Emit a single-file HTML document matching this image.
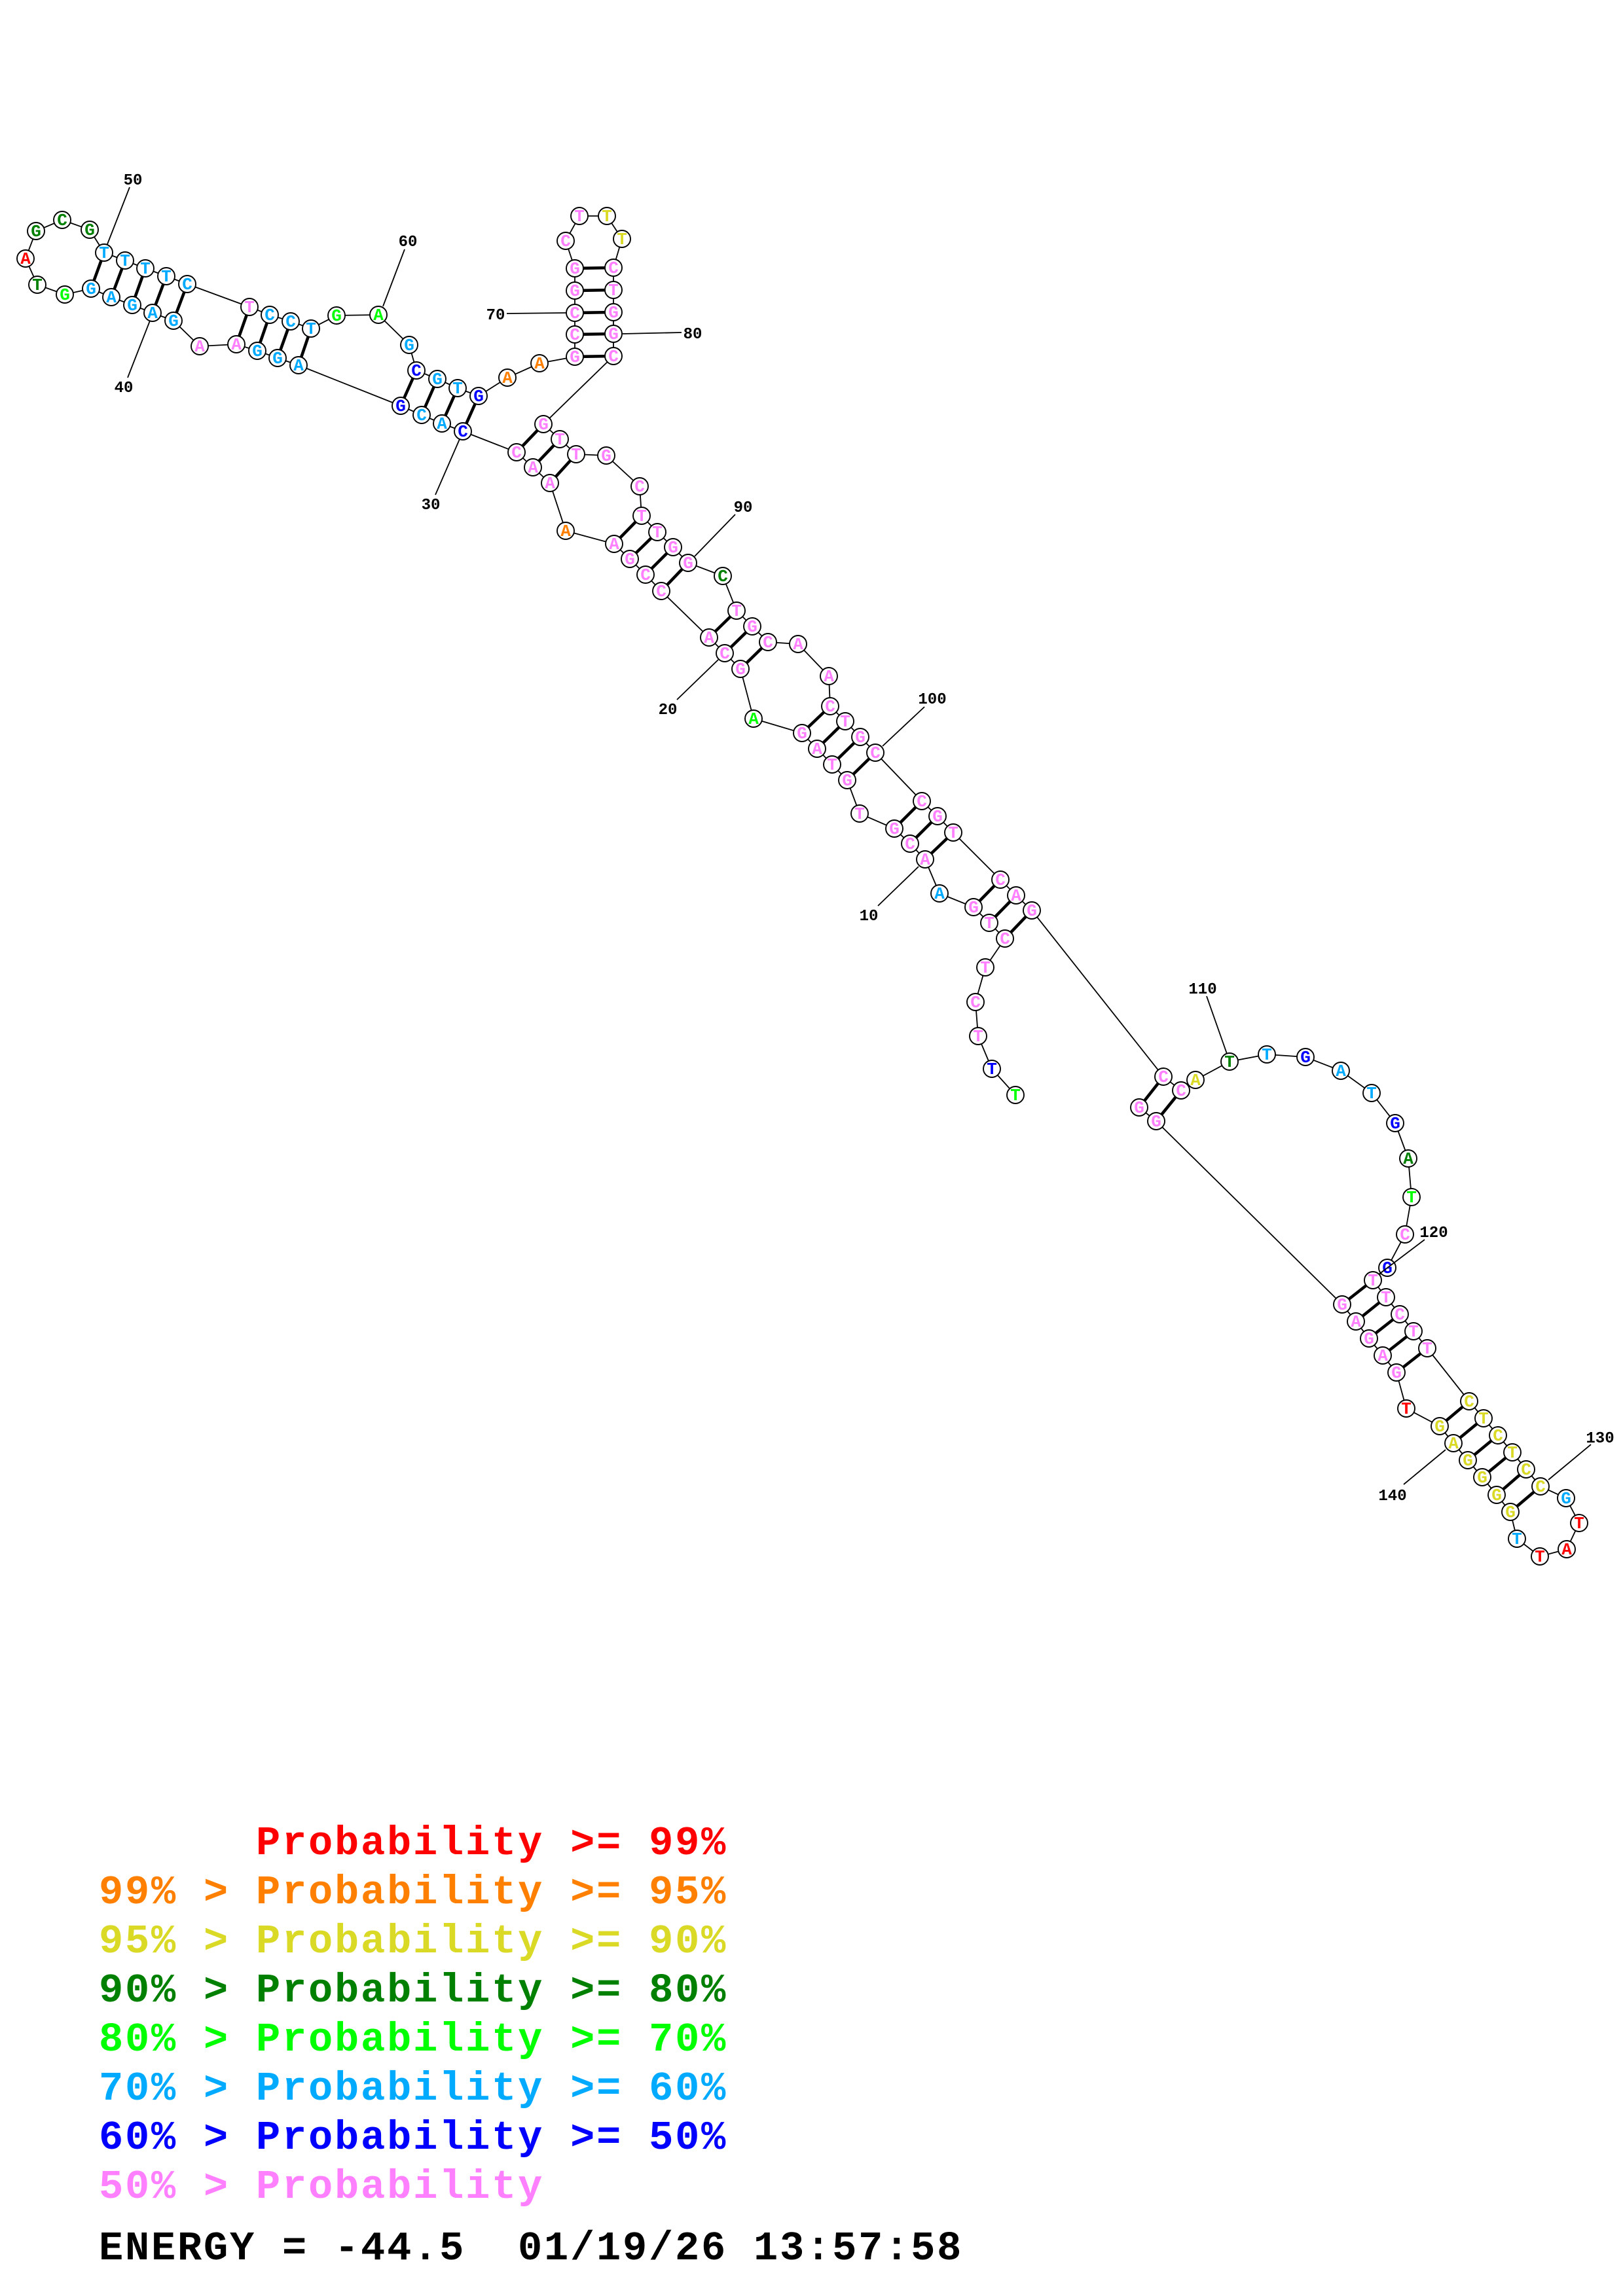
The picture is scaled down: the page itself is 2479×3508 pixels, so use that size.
<!DOCTYPE html>
<html><head><meta charset="utf-8"><title>RNA secondary structure</title>
<style>
html,body{margin:0;padding:0;background:#fff}
svg{display:block}
.th{fill:none;stroke:#000;stroke-width:1.8}
.pr{fill:none;stroke:#000;stroke-width:4.6}
.nd circle{fill:#fff;stroke:#000;stroke-width:1.9}
.nd text{font:bold 26px "Liberation Mono",monospace;text-anchor:middle;fill:#ff80ff}
.nd .r{fill:#f00}.nd .o{fill:#ff8000}.nd .y{fill:#d9d926}.nd .d{fill:#008000}.nd .g{fill:#0f0}.nd .s{fill:#0af}.nd .b{fill:#00f}
.lb{font:bold 24px "Liberation Mono",monospace;text-anchor:middle;fill:#000}
.lg{font:bold 62px "Liberation Mono",monospace;letter-spacing:2.8px}
</style></head><body>
<svg xmlns="http://www.w3.org/2000/svg" width="2479" height="3508" viewBox="0 0 2479 3508">
<rect width="2479" height="3508" fill="#fff"/>
<path class="th" d="M1551 1673L1515 1633L1494 1583L1490 1531L1505 1478L1535 1434L1511 1410L1487 1386L1435 1365L1413 1313L1390 1289L1366 1266L1313 1243L1294 1192L1271 1168L1248 1144L1225 1120L1151 1098L1131 1022L1107 998L1083 974L1010 903L986 878L962 854L938 831L864 811L840 738L814 714L789 691L707 659L675 647L644 634L612 620L456 558L424 547L393 536L361 526L305 529L265 490L233 478L202 466L170 454L139 441L99 450L57 435L39 395L55 353L95 336L137 351L159 386L191 398L222 410L254 422L286 434L381 469L412 481L444 491L475 502L514 482L578 481L625 527L636 566L668 579L699 593L731 605L775 577L824 555L878 545L878 511L878 478L878 444L878 410L864 368L885 330L927 330L950 365L937 409L937 443L937 477L937 510L937 544L830 648L855 671L880 694L926 696L977 743L980 788L1004 813L1028 836L1051 860L1104 880L1125 933L1149 957L1173 981L1219 984L1266 1033L1268 1079L1291 1102L1314 1126L1337 1150L1408 1224L1432 1247L1456 1272L1528 1344L1552 1368L1576 1391L1777 1645L1804 1666L1826 1650L1878 1622L1935 1611L1994 1615L2048 1636L2095 1670L2131 1716L2151 1770L2156 1829L2146 1886L2119 1937L2097 1956L2117 1982L2138 2008L2159 2034L2180 2060L2244 2141L2266 2167L2288 2193L2310 2219L2331 2245L2353 2271L2392 2289L2412 2327L2393 2367L2352 2378L2317 2351L2307 2310L2286 2284L2264 2257L2242 2231L2220 2205L2199 2179L2148 2152L2133 2097L2112 2071L2091 2045L2071 2019L2050 1993L1766 1713L1740 1692"/>
<path class="pr" d="M1535 1434L1576 1391M1511 1410L1552 1368M1487 1386L1528 1344M1413 1313L1456 1272M1390 1289L1432 1247M1366 1266L1408 1224M1294 1192L1337 1150M1271 1168L1314 1126M1248 1144L1291 1102M1225 1120L1268 1079M1131 1022L1173 981M1107 998L1149 957M1083 974L1125 933M1010 903L1051 860M986 878L1028 836M962 854L1004 813M938 831L980 788M840 738L880 694M814 714L855 671M789 691L830 648M707 659L731 605M675 647L699 593M644 634L668 579M612 620L636 566M456 558L475 502M424 547L444 491M393 536L412 481M361 526L381 469M265 490L286 434M233 478L254 422M202 466L222 410M170 454L191 398M139 441L159 386M878 545L937 544M878 511L937 510M878 478L937 477M878 444L937 443M878 410L937 409M1777 1645L1740 1692M1804 1666L1766 1713M2097 1956L2050 1993M2117 1982L2071 2019M2138 2008L2091 2045M2159 2034L2112 2071M2180 2060L2133 2097M2244 2141L2199 2179M2266 2167L2220 2205M2288 2193L2242 2231M2310 2219L2264 2257M2331 2245L2286 2284M2353 2271L2307 2310"/>
<g class="nd">
<circle cx="1551" cy="1673" r="13"/><text x="1551" y="1681" class="g">T</text>
<circle cx="1515" cy="1633" r="13"/><text x="1515" y="1641" class="b">T</text>
<circle cx="1494" cy="1583" r="13"/><text x="1494" y="1591">T</text>
<circle cx="1490" cy="1531" r="13"/><text x="1490" y="1539">C</text>
<circle cx="1505" cy="1478" r="13"/><text x="1505" y="1486">T</text>
<circle cx="1535" cy="1434" r="13"/><text x="1535" y="1442">C</text>
<circle cx="1511" cy="1410" r="13"/><text x="1511" y="1418">T</text>
<circle cx="1487" cy="1386" r="13"/><text x="1487" y="1394">G</text>
<circle cx="1435" cy="1365" r="13"/><text x="1435" y="1373" class="s">A</text>
<circle cx="1413" cy="1313" r="13"/><text x="1413" y="1321">A</text>
<circle cx="1390" cy="1289" r="13"/><text x="1390" y="1297">C</text>
<circle cx="1366" cy="1266" r="13"/><text x="1366" y="1274">G</text>
<circle cx="1313" cy="1243" r="13"/><text x="1313" y="1251">T</text>
<circle cx="1294" cy="1192" r="13"/><text x="1294" y="1200">G</text>
<circle cx="1271" cy="1168" r="13"/><text x="1271" y="1176">T</text>
<circle cx="1248" cy="1144" r="13"/><text x="1248" y="1152">A</text>
<circle cx="1225" cy="1120" r="13"/><text x="1225" y="1128">G</text>
<circle cx="1151" cy="1098" r="13"/><text x="1151" y="1106" class="g">A</text>
<circle cx="1131" cy="1022" r="13"/><text x="1131" y="1030">G</text>
<circle cx="1107" cy="998" r="13"/><text x="1107" y="1006">C</text>
<circle cx="1083" cy="974" r="13"/><text x="1083" y="982">A</text>
<circle cx="1010" cy="903" r="13"/><text x="1010" y="911">C</text>
<circle cx="986" cy="878" r="13"/><text x="986" y="886">C</text>
<circle cx="962" cy="854" r="13"/><text x="962" y="862">G</text>
<circle cx="938" cy="831" r="13"/><text x="938" y="839">A</text>
<circle cx="864" cy="811" r="13"/><text x="864" y="819" class="o">A</text>
<circle cx="840" cy="738" r="13"/><text x="840" y="746">A</text>
<circle cx="814" cy="714" r="13"/><text x="814" y="722">A</text>
<circle cx="789" cy="691" r="13"/><text x="789" y="699">C</text>
<circle cx="707" cy="659" r="13"/><text x="707" y="667" class="b">C</text>
<circle cx="675" cy="647" r="13"/><text x="675" y="655" class="s">A</text>
<circle cx="644" cy="634" r="13"/><text x="644" y="642" class="s">C</text>
<circle cx="612" cy="620" r="13"/><text x="612" y="628" class="b">G</text>
<circle cx="456" cy="558" r="13"/><text x="456" y="566" class="s">A</text>
<circle cx="424" cy="547" r="13"/><text x="424" y="555" class="s">G</text>
<circle cx="393" cy="536" r="13"/><text x="393" y="544" class="s">G</text>
<circle cx="361" cy="526" r="13"/><text x="361" y="534">A</text>
<circle cx="305" cy="529" r="13"/><text x="305" y="537">A</text>
<circle cx="265" cy="490" r="13"/><text x="265" y="498" class="s">G</text>
<circle cx="233" cy="478" r="13"/><text x="233" y="486" class="s">A</text>
<circle cx="202" cy="466" r="13"/><text x="202" y="474" class="s">G</text>
<circle cx="170" cy="454" r="13"/><text x="170" y="462" class="s">A</text>
<circle cx="139" cy="441" r="13"/><text x="139" y="449" class="s">G</text>
<circle cx="99" cy="450" r="13"/><text x="99" y="458" class="g">G</text>
<circle cx="57" cy="435" r="13"/><text x="57" y="443" class="d">T</text>
<circle cx="39" cy="395" r="13"/><text x="39" y="403" class="r">A</text>
<circle cx="55" cy="353" r="13"/><text x="55" y="361" class="d">G</text>
<circle cx="95" cy="336" r="13"/><text x="95" y="344" class="d">C</text>
<circle cx="137" cy="351" r="13"/><text x="137" y="359" class="d">G</text>
<circle cx="159" cy="386" r="13"/><text x="159" y="394" class="s">T</text>
<circle cx="191" cy="398" r="13"/><text x="191" y="406" class="s">T</text>
<circle cx="222" cy="410" r="13"/><text x="222" y="418" class="s">T</text>
<circle cx="254" cy="422" r="13"/><text x="254" y="430" class="s">T</text>
<circle cx="286" cy="434" r="13"/><text x="286" y="442" class="s">C</text>
<circle cx="381" cy="469" r="13"/><text x="381" y="477">T</text>
<circle cx="412" cy="481" r="13"/><text x="412" y="489" class="s">C</text>
<circle cx="444" cy="491" r="13"/><text x="444" y="499" class="s">C</text>
<circle cx="475" cy="502" r="13"/><text x="475" y="510" class="s">T</text>
<circle cx="514" cy="482" r="13"/><text x="514" y="490" class="g">G</text>
<circle cx="578" cy="481" r="13"/><text x="578" y="489" class="g">A</text>
<circle cx="625" cy="527" r="13"/><text x="625" y="535" class="s">G</text>
<circle cx="636" cy="566" r="13"/><text x="636" y="574" class="b">C</text>
<circle cx="668" cy="579" r="13"/><text x="668" y="587" class="s">G</text>
<circle cx="699" cy="593" r="13"/><text x="699" y="601" class="s">T</text>
<circle cx="731" cy="605" r="13"/><text x="731" y="613" class="b">G</text>
<circle cx="775" cy="577" r="13"/><text x="775" y="585" class="o">A</text>
<circle cx="824" cy="555" r="13"/><text x="824" y="563" class="o">A</text>
<circle cx="878" cy="545" r="13"/><text x="878" y="553">G</text>
<circle cx="878" cy="511" r="13"/><text x="878" y="519">C</text>
<circle cx="878" cy="478" r="13"/><text x="878" y="486">C</text>
<circle cx="878" cy="444" r="13"/><text x="878" y="452">G</text>
<circle cx="878" cy="410" r="13"/><text x="878" y="418">G</text>
<circle cx="864" cy="368" r="13"/><text x="864" y="376">C</text>
<circle cx="885" cy="330" r="13"/><text x="885" y="338">T</text>
<circle cx="927" cy="330" r="13"/><text x="927" y="338" class="y">T</text>
<circle cx="950" cy="365" r="13"/><text x="950" y="373" class="y">T</text>
<circle cx="937" cy="409" r="13"/><text x="937" y="417">C</text>
<circle cx="937" cy="443" r="13"/><text x="937" y="451">T</text>
<circle cx="937" cy="477" r="13"/><text x="937" y="485">G</text>
<circle cx="937" cy="510" r="13"/><text x="937" y="518">G</text>
<circle cx="937" cy="544" r="13"/><text x="937" y="552">C</text>
<circle cx="830" cy="648" r="13"/><text x="830" y="656">G</text>
<circle cx="855" cy="671" r="13"/><text x="855" y="679">T</text>
<circle cx="880" cy="694" r="13"/><text x="880" y="702">T</text>
<circle cx="926" cy="696" r="13"/><text x="926" y="704">G</text>
<circle cx="977" cy="743" r="13"/><text x="977" y="751">C</text>
<circle cx="980" cy="788" r="13"/><text x="980" y="796">T</text>
<circle cx="1004" cy="813" r="13"/><text x="1004" y="821">T</text>
<circle cx="1028" cy="836" r="13"/><text x="1028" y="844">G</text>
<circle cx="1051" cy="860" r="13"/><text x="1051" y="868">G</text>
<circle cx="1104" cy="880" r="13"/><text x="1104" y="888" class="d">C</text>
<circle cx="1125" cy="933" r="13"/><text x="1125" y="941">T</text>
<circle cx="1149" cy="957" r="13"/><text x="1149" y="965">G</text>
<circle cx="1173" cy="981" r="13"/><text x="1173" y="989">C</text>
<circle cx="1219" cy="984" r="13"/><text x="1219" y="992">A</text>
<circle cx="1266" cy="1033" r="13"/><text x="1266" y="1041">A</text>
<circle cx="1268" cy="1079" r="13"/><text x="1268" y="1087">C</text>
<circle cx="1291" cy="1102" r="13"/><text x="1291" y="1110">T</text>
<circle cx="1314" cy="1126" r="13"/><text x="1314" y="1134">G</text>
<circle cx="1337" cy="1150" r="13"/><text x="1337" y="1158">C</text>
<circle cx="1408" cy="1224" r="13"/><text x="1408" y="1232">C</text>
<circle cx="1432" cy="1247" r="13"/><text x="1432" y="1255">G</text>
<circle cx="1456" cy="1272" r="13"/><text x="1456" y="1280">T</text>
<circle cx="1528" cy="1344" r="13"/><text x="1528" y="1352">C</text>
<circle cx="1552" cy="1368" r="13"/><text x="1552" y="1376">A</text>
<circle cx="1576" cy="1391" r="13"/><text x="1576" y="1399">G</text>
<circle cx="1777" cy="1645" r="13"/><text x="1777" y="1653">C</text>
<circle cx="1804" cy="1666" r="13"/><text x="1804" y="1674">C</text>
<circle cx="1826" cy="1650" r="13"/><text x="1826" y="1658" class="y">A</text>
<circle cx="1878" cy="1622" r="13"/><text x="1878" y="1630" class="d">T</text>
<circle cx="1935" cy="1611" r="13"/><text x="1935" y="1619" class="s">T</text>
<circle cx="1994" cy="1615" r="13"/><text x="1994" y="1623" class="b">G</text>
<circle cx="2048" cy="1636" r="13"/><text x="2048" y="1644" class="s">A</text>
<circle cx="2095" cy="1670" r="13"/><text x="2095" y="1678" class="s">T</text>
<circle cx="2131" cy="1716" r="13"/><text x="2131" y="1724" class="b">G</text>
<circle cx="2151" cy="1770" r="13"/><text x="2151" y="1778" class="d">A</text>
<circle cx="2156" cy="1829" r="13"/><text x="2156" y="1837" class="g">T</text>
<circle cx="2146" cy="1886" r="13"/><text x="2146" y="1894">C</text>
<circle cx="2119" cy="1937" r="13"/><text x="2119" y="1945" class="b">G</text>
<circle cx="2097" cy="1956" r="13"/><text x="2097" y="1964">T</text>
<circle cx="2117" cy="1982" r="13"/><text x="2117" y="1990">T</text>
<circle cx="2138" cy="2008" r="13"/><text x="2138" y="2016">C</text>
<circle cx="2159" cy="2034" r="13"/><text x="2159" y="2042">T</text>
<circle cx="2180" cy="2060" r="13"/><text x="2180" y="2068">T</text>
<circle cx="2244" cy="2141" r="13"/><text x="2244" y="2149" class="y">C</text>
<circle cx="2266" cy="2167" r="13"/><text x="2266" y="2175" class="y">T</text>
<circle cx="2288" cy="2193" r="13"/><text x="2288" y="2201" class="y">C</text>
<circle cx="2310" cy="2219" r="13"/><text x="2310" y="2227" class="y">T</text>
<circle cx="2331" cy="2245" r="13"/><text x="2331" y="2253" class="y">C</text>
<circle cx="2353" cy="2271" r="13"/><text x="2353" y="2279" class="y">C</text>
<circle cx="2392" cy="2289" r="13"/><text x="2392" y="2297" class="s">G</text>
<circle cx="2412" cy="2327" r="13"/><text x="2412" y="2335" class="r">T</text>
<circle cx="2393" cy="2367" r="13"/><text x="2393" y="2375" class="r">A</text>
<circle cx="2352" cy="2378" r="13"/><text x="2352" y="2386" class="r">T</text>
<circle cx="2317" cy="2351" r="13"/><text x="2317" y="2359" class="s">T</text>
<circle cx="2307" cy="2310" r="13"/><text x="2307" y="2318" class="y">G</text>
<circle cx="2286" cy="2284" r="13"/><text x="2286" y="2292" class="y">G</text>
<circle cx="2264" cy="2257" r="13"/><text x="2264" y="2265" class="y">G</text>
<circle cx="2242" cy="2231" r="13"/><text x="2242" y="2239" class="y">G</text>
<circle cx="2220" cy="2205" r="13"/><text x="2220" y="2213" class="y">A</text>
<circle cx="2199" cy="2179" r="13"/><text x="2199" y="2187" class="y">G</text>
<circle cx="2148" cy="2152" r="13"/><text x="2148" y="2160" class="r">T</text>
<circle cx="2133" cy="2097" r="13"/><text x="2133" y="2105">G</text>
<circle cx="2112" cy="2071" r="13"/><text x="2112" y="2079">A</text>
<circle cx="2091" cy="2045" r="13"/><text x="2091" y="2053">G</text>
<circle cx="2071" cy="2019" r="13"/><text x="2071" y="2027">A</text>
<circle cx="2050" cy="1993" r="13"/><text x="2050" y="2001">G</text>
<circle cx="1766" cy="1713" r="13"/><text x="1766" y="1721">G</text>
<circle cx="1740" cy="1692" r="13"/><text x="1740" y="1700">G</text>
</g>
<path class="th" d="M1341 1384L1403 1324M1034 1069L1097 1008M665 756L702 671M195 577L229 490M198 286L164 373M618 381L585 468M774 479L865 478M951 510L1041 508M1123 786L1061 850M1412 1080L1348 1140M1843 1522L1874 1610M2176 1894L2106 1947M2430 2207L2365 2261M2144 2268L2208 2215"/>
<g class="lb">
<text x="1327" y="1406">10</text>
<text x="1020" y="1091">20</text>
<text x="658" y="778">30</text>
<text x="189" y="599">40</text>
<text x="203" y="282">50</text>
<text x="623" y="376">60</text>
<text x="757" y="488">70</text>
<text x="1058" y="517">80</text>
<text x="1135" y="782">90</text>
<text x="1424" y="1075">100</text>
<text x="1837" y="1518">110</text>
<text x="2190" y="1890">120</text>
<text x="2444" y="2204">130</text>
<text x="2127" y="2292">140</text>
</g>
<g class="lg">
<text x="391" y="2833" fill="#ff0000">Probability &gt;= 99%</text>
<text x="151" y="2908" fill="#ff8000">99% &gt; Probability &gt;= 95%</text>
<text x="151" y="2983" fill="#d9d926">95% &gt; Probability &gt;= 90%</text>
<text x="151" y="3058" fill="#008000">90% &gt; Probability &gt;= 80%</text>
<text x="151" y="3133" fill="#00ff00">80% &gt; Probability &gt;= 70%</text>
<text x="151" y="3208" fill="#00aaff">70% &gt; Probability &gt;= 60%</text>
<text x="151" y="3283" fill="#0000ff">60% &gt; Probability &gt;= 50%</text>
<text x="151" y="3358" fill="#ff80ff">50% &gt; Probability</text>
<text x="151" y="3452" fill="#000000">ENERGY = -44.5</text>
<text x="791" y="3452" fill="#000000">01/19/26 13:57:58</text>
</g>
</svg>
</body></html>
